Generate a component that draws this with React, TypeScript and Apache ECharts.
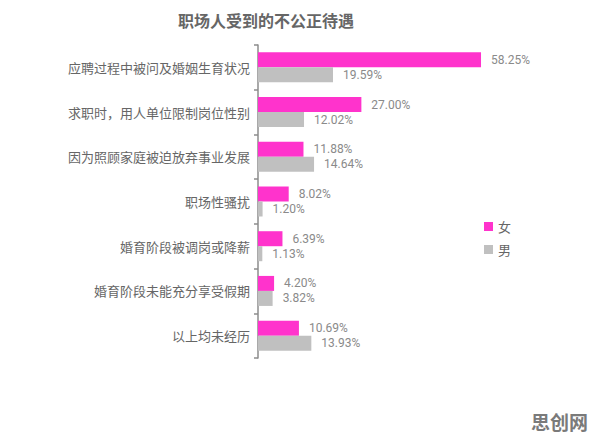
import React, { useEffect, useRef } from "react";
import * as echarts from "echarts";

const categories = [
  "应聘过程中被问及婚姻生育状况",
  "求职时，用人单位限制岗位性别",
  "因为照顾家庭被迫放弃事业发展",
  "职场性骚扰",
  "婚育阶段被调岗或降薪",
  "婚育阶段未能充分享受假期",
  "以上均未经历",
];
const femaleValues = [58.25, 27.0, 11.88, 8.02, 6.39, 4.2, 10.69];
const maleValues = [19.59, 12.02, 14.64, 1.2, 1.13, 3.82, 13.93];
const seriesNames = ["女", "男"];

export default function App() {
  const ref = useRef<HTMLDivElement>(null);
  useEffect(() => {
    document.body.style.margin = "0";
    const chart = echarts.init(ref.current!, null, { renderer: "svg" });
    const label = {
      show: true,
      position: "right",
      distance: 10,
      color: "#8a8a8a",
      fontSize: 12,
      fontFamily: "Roboto, 'Noto Sans', sans-serif",
      formatter: (p: any) => p.value.toFixed(2) + "%",
    };
    chart.setOption({
      animation: false,
      backgroundColor: "#ffffff",
      title: {
        text: "职场人受到的不公正待遇",
        left: 261,
        textAlign: "center",
        top: 7,
        textStyle: {
          color: "#666666",
          fontSize: 16,
          fontWeight: "bold",
          fontFamily: "'Noto Sans CJK SC', sans-serif",
        },
      },
      legend: {
        orient: "vertical",
        left: 479,
        top: 215,
        itemWidth: 9,
        itemHeight: 9,
        itemGap: 10,
        icon: "rect",
        textStyle: {
          color: "#666666",
          fontSize: 13,
          fontFamily: "'Noto Sans CJK SC', sans-serif",
        },
        data: seriesNames,
      },
      grid: { left: 258, right: 70, top: 45, height: 313, containLabel: false },
      xAxis: {
        type: "value",
        min: 0,
        max: 70,
        show: false,
      },
      yAxis: {
        type: "category",
        inverse: true,
        data: categories,
        axisLine: { show: true, lineStyle: { color: "#8c8c8c", width: 1.5 } },
        axisTick: { show: true, length: 4, lineStyle: { color: "#8c8c8c", width: 1.5 } },
        axisLabel: {
          color: "#666666",
          fontSize: 13,
          margin: 8,
          fontFamily: "'Noto Sans CJK SC', sans-serif",
        },
        splitLine: { show: false },
      },
      series: [
        {
          name: seriesNames[0],
          type: "bar",
          data: femaleValues,
          barWidth: 15,
          barGap: "0%",
          itemStyle: { color: "#ff33cc" },
          label,
        },
        {
          name: seriesNames[1],
          type: "bar",
          data: maleValues,
          barWidth: 15,
          barGap: "0%",
          itemStyle: { color: "#c0c0c0" },
          label,
        },
      ],
      graphic: [
        {
          type: "text",
          right: 8,
          bottom: 7,
          style: {
            text: "思创网",
            fill: "#7a7a7a",
            fontSize: 19,
            fontWeight: "bold",
            fontFamily: "'Noto Sans CJK SC', sans-serif",
          },
        },
      ],
    });
    return () => chart.dispose();
  }, []);
  return <div ref={ref} style={{ width: 596, height: 438 }} />;
}
